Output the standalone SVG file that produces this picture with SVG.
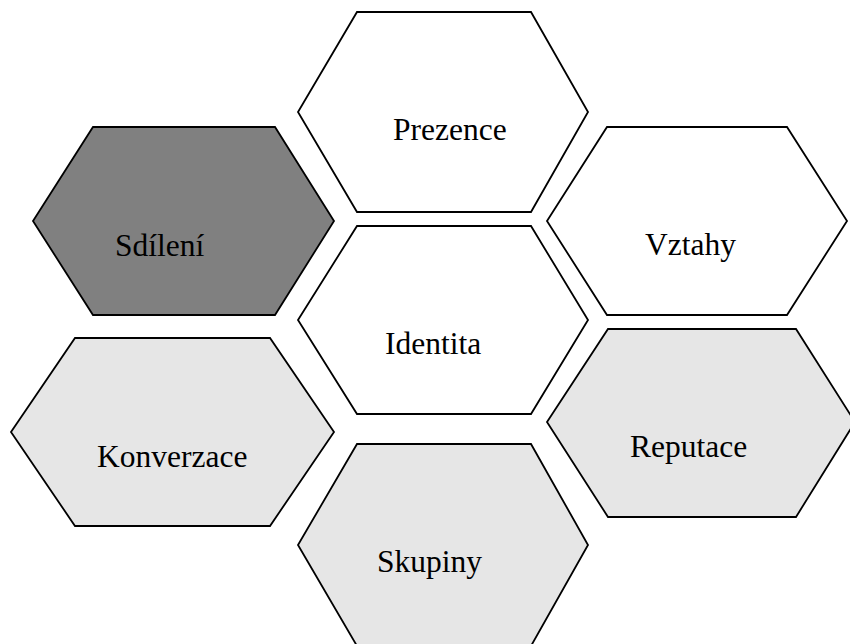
<svg xmlns="http://www.w3.org/2000/svg" width="850" height="644" viewBox="0 0 850 644">
  <style>
    .hex { stroke: #000; stroke-width: 1.8; stroke-linejoin: miter; }
    .plain { fill: #ffffff; }
    .light { fill: #e6e6e6; }
    .dark { fill: #808080; }
    .label { font-family: "Liberation Serif", "Times New Roman", serif; font-size: 31.5px; fill: #000; }
  </style>
  <rect width="850" height="644" fill="#ffffff"/>
  <g id="connectors"/>
  <g id="prezence">
    <polygon class="hex plain" points="357,12 531,12 588,112 531,212 357,212 298,112"/>
    <text class="label" x="393" y="140">Prezence</text>
  </g>
  <g id="sdileni">
    <polygon class="hex dark" points="93,127 275,127 334,221 275,315 93,315 33,221"/>
    <text class="label" x="115" y="256">Sdílení</text>
  </g>
  <g id="vztahy">
    <polygon class="hex plain" points="607,127 787,127 847,221 787,315 607,315 547,221"/>
    <text class="label" x="645" y="255">Vztahy</text>
  </g>
  <g id="identita">
    <polygon class="hex plain" points="357,226 531,226 588,320 531,414 357,414 298,320"/>
    <text class="label" x="385" y="354">Identita</text>
  </g>
  <g id="konverzace">
    <polygon class="hex light" points="75,338 270,338 334,432 270,526 75,526 11,432"/>
    <text class="label" x="97" y="467">Konverzace</text>
  </g>
  <g id="reputace">
    <polygon class="hex light" points="608,329 796,329 855,422 796,517 608,517 547,422"/>
    <text class="label" x="630" y="457">Reputace</text>
  </g>
  <g id="skupiny">
    <polygon class="hex light" points="357,444 531,444 588,545 531,646 357,646 298,545"/>
    <text class="label" x="377" y="572">Skupiny</text>
  </g>
</svg>
